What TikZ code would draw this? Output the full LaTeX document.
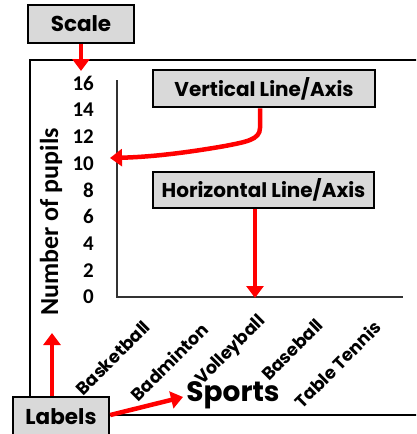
\documentclass[tikz,border=0pt]{standalone}
\usepackage{fontspec}
\setmainfont{Poppins}
\newfontfamily\calib{Carlito}
\usetikzlibrary{arrows.meta}
\definecolor{boxgrey}{HTML}{D9D9D9}
\definecolor{arrred}{HTML}{FF0000}
\tikzset{
  labelbox/.style={draw=black, line width=2.5pt, fill=boxgrey, inner sep=0pt, font=\fontsize{20}{20}\selectfont\bfseries},
  redarrow/.style={draw=arrred, line width=4.5pt, -{Triangle[width=17pt,length=12pt]}},
  ticknum/.style={anchor=east, inner sep=0pt, font=\calib\fontsize{21}{21}\selectfont\bfseries},
  sport/.style={anchor=east, rotate=45, inner sep=0pt, font=\fontsize{17.5}{17.5}\selectfont\bfseries},
}
\begin{document}
\begin{tikzpicture}[x=1pt,y=-1pt]
\useasboundingbox (0,0) rectangle (416,434);
\begin{scope}
\clip (0,0) rectangle (416,434);
% outer frame
\draw[line width=1.8pt] (418,60) coordinate (fr1) -- (30,60) -- (30,415) -- (418,415);
% axes
\coordinate (ytop) at (117,80);
\coordinate (orig) at (117,297);
\coordinate (xend) at (403,297);
\draw[line width=1.3pt, black!80] (ytop) -- (orig) -- (xend);
% ticks
\foreach \v [count=\i from 0] in {0,2,4,6,8,10,12,14,16}
  \node[ticknum] (t\v) at (94,{297-26.7*\i}) {\v};
% y label
\node[rotate=90, inner sep=0pt, font=\calib\fontsize{26}{26}\selectfont\bfseries] (ylab) at (51,222) {Number of pupils};
% categories
\node[sport] (c1) at (147,324) {Basketball};
\node[sport] (c2) at (205,326) {Badminton};
\node[sport] (c3) at (263,319) {Volleyball};
\node[sport] (c4) at (320,322) {Baseball};
\node[sport] (c5) at (378,324) {Table Tennis};
% sports
\node[inner sep=0pt, font=\fontsize{28}{28}\selectfont\bfseries] (sports) at (233,395) {Sports};
% boxes
\node[labelbox, minimum width=106pt, minimum height=38pt, font=\fontsize{21.5}{21.5}\selectfont\bfseries] (scale) at (81,24) {Scale};
\node[labelbox, minimum width=222pt, minimum height=37pt] (vbox) at (264,88.5) {Vertical Line/Axis};
\node[labelbox, minimum width=221pt, minimum height=36pt] (hbox) at (263.5,190) {Horizontal Line/Axis};
\node[labelbox, minimum width=96pt, minimum height=40pt, font=\fontsize{21.5}{21.5}\selectfont\bfseries] (labels) at (61,417) {Labels};
% arrows
\coordinate (scaletip) at (81,71);
\draw[redarrow] (scale.south) -- (scaletip);
\coordinate (vtip) at (110,158);
\draw[redarrow] (vbox.south -| 260,0) -- (260,128) .. controls (260,140) and (245,142) .. (225,146) .. controls (185,153) and (150,157) .. (vtip);
\coordinate (htip) at (255,298);
\draw[redarrow] (hbox.south -| htip) -- (htip);
\coordinate (ltip) at (52,333);
\draw[redarrow] (labels.north -| ltip) -- (ltip);
\coordinate (stip) at (183,397);
\draw[redarrow] (labels.east |- 0,415) -- (stip);
\end{scope}
\end{tikzpicture}
\end{document}
